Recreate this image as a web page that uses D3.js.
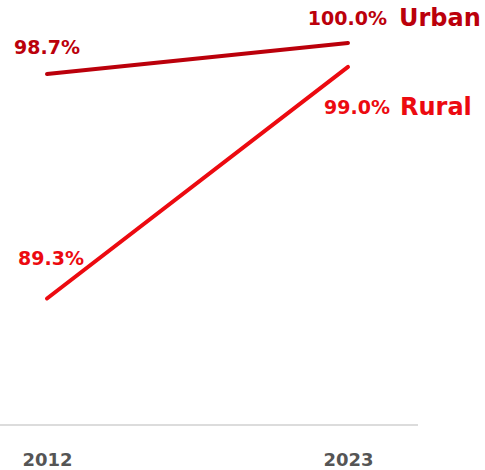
<!DOCTYPE html>
<html>
<head>
<meta charset="utf-8">
<script src="https://cdn.jsdelivr.net/npm/d3@7"></script>
<style>
  html, body { margin: 0; padding: 0; background: #fff; }
  svg { display: block; }
  text { font-family: "DejaVu Sans", "Noto Sans", sans-serif; }
</style>
</head>
<body>
<div id="chart"></div>
<script>
// Access rate (%) by area type, 2012 vs 2023
const years = ["2012", "2023"];
const seriesNames = ["Urban", "Rural"];
const urbanValues = [98.7, 100.0];
const ruralValues = [89.3, 99.0];
const seriesColors = ["#bb000b", "#ec0a10"];

const width = 485, height = 470;

const svg = d3.select("#chart").append("svg")
  .attr("width", width)
  .attr("height", height);

const x = d3.scalePoint().domain(years).range([47, 348]);
const y = d3.scaleLinear().domain([84, 100]).range([425, 43]);

// baseline axis
const axisG = svg.append("g")
  .attr("transform", `translate(0,${y(84)})`)
  .call(d3.axisBottom(x).tickSize(0).tickPadding(0));
axisG.select(".domain").remove();
axisG.append("line")
  .attr("x1", 0).attr("x2", 418)
  .attr("y1", 0).attr("y2", 0)
  .attr("stroke", "#dcdcdc").attr("stroke-width", 2);
axisG.selectAll(".tick text")
  .attr("y", 41)
  .attr("dy", 0)
  .attr("fill", "#555")
  .style("font-size", "18px")
  .style("font-weight", "700")
  .style("font-family", "'DejaVu Sans', sans-serif");

const series = [
  { name: seriesNames[0], values: urbanValues, color: seriesColors[0],
    startDx: 0, startDy: -20, endRight: 387, nameLeft: 399, endDy: -18 },
  { name: seriesNames[1], values: ruralValues, color: seriesColors[1],
    startDx: 4, startDy: -33, endRight: 390, nameLeft: 400, endDy: 47 }
];

const line = d3.line()
  .x((d, i) => x(years[i]))
  .y(d => y(d));

series.forEach(s => {
  svg.append("path")
    .datum(s.values)
    .attr("d", line)
    .attr("fill", "none")
    .attr("stroke", s.color)
    .attr("stroke-width", 4)
    .attr("stroke-linecap", "round");

  // start value label
  svg.append("text")
    .attr("x", x(years[0]) + s.startDx)
    .attr("y", y(s.values[0]) + s.startDy)
    .attr("text-anchor", "middle")
    .attr("fill", s.color)
    .style("font-size", "19px")
    .style("font-weight", "700")
    .text(s.values[0].toFixed(1) + "%");

  // end value label + series name
  svg.append("text")
    .attr("x", s.endRight)
    .attr("y", y(s.values[1]) + s.endDy)
    .attr("text-anchor", "end")
    .attr("fill", s.color)
    .style("font-size", "19px")
    .style("font-weight", "700")
    .text(s.values[1].toFixed(1) + "%");

  svg.append("text")
    .attr("x", s.nameLeft)
    .attr("y", y(s.values[1]) + s.endDy + 1)
    .attr("text-anchor", "start")
    .attr("fill", s.color)
    .style("font-size", "24px")
    .style("font-weight", "700")
    .text(s.name);
});
</script>
</body>
</html>
